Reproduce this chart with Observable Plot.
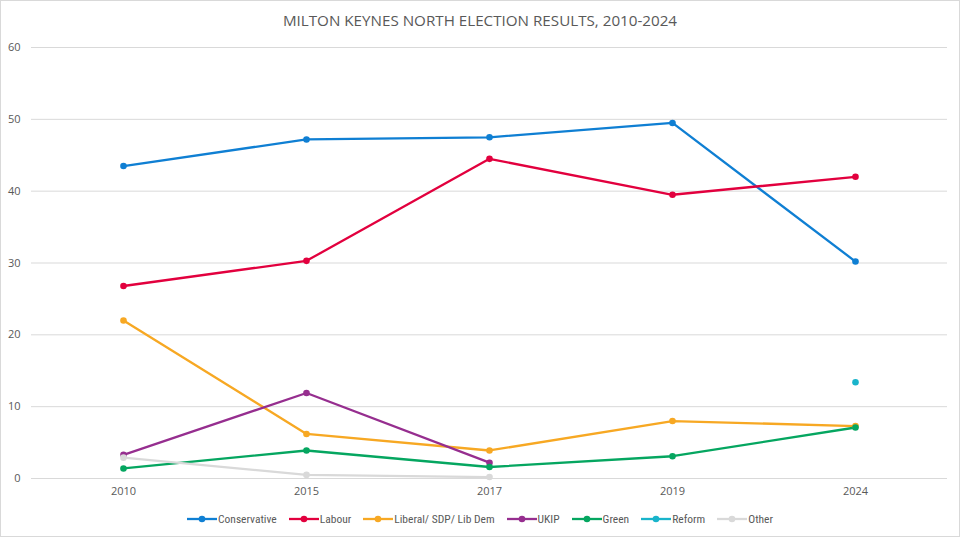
<!DOCTYPE html>
<html>
<head>
<meta charset="utf-8">
<script src="https://cdn.jsdelivr.net/npm/d3@7"></script>
<script src="https://cdn.jsdelivr.net/npm/@observablehq/plot@0.6"></script>
<style>
  html, body { margin: 0; padding: 0; background: #fff; }
  #wrap { width: 958px; height: 535px; border: 1px solid #d9d9d9; position: relative; overflow: hidden; font-family: "Open Sans", "Noto Sans", sans-serif; }
  #title { position: absolute; left: 0; top: 9px; width: 958px; text-align: center; font-size: 15.2px; color: #595959; }
  #chart { position: absolute; left: 0; top: 37px; }
  #legend { position: absolute; left: 0; top: 511px; width: 958px; display: flex; justify-content: center; gap: 12px; font-family: "Liberation Sans Narrow", "Roboto Condensed", Roboto, sans-serif; font-size: 11.5px; color: #595959; }
  .item { display: flex; align-items: center; gap: 1px; }
</style>
</head>
<body>
<div id="wrap">
  <div id="title">MILTON KEYNES NORTH ELECTION RESULTS, 2010-2024</div>
  <div id="chart"></div>
  <div id="legend"></div>
</div>
<script>
const years = ["2010", "2015", "2017", "2019", "2024"];
const parties = ["Conservative", "Labour", "Liberal/ SDP/ Lib  Dem", "UKIP", "Green", "Reform", "Other"];
const colors = ["#0F7FD3", "#E2003E", "#F7A823", "#962E8F", "#05A660", "#19B4CB", "#D9D9D9"];
const conservative = [43.5, 47.2, 47.5, 49.5, 30.2];
const labour = [26.8, 30.3, 44.5, 39.5, 42.0];
const libdem = [22.0, 6.2, 3.9, 8.0, 7.3];
const ukip = [3.3, 11.9, 2.2, null, null];
const green = [1.4, 3.9, 1.6, 3.1, 7.1];
const reform = [null, null, null, null, 13.4];
const other = [2.9, 0.5, 0.2, null, null];
const yTicks = [0, 10, 20, 30, 40, 50, 60];

const series = [conservative, labour, libdem, ukip, green, reform, other];
const data = [];
series.forEach((vals, i) => {
  vals.forEach((v, j) => {
    data.push({party: parties[i], year: years[j], value: v});
  });
});
const valid = data.filter(d => d.value != null);

const plot = Plot.plot({
  width: 958,
  height: 462,
  marginTop: 9,
  marginBottom: 22,
  marginLeft: 30,
  marginRight: 12,
  style: { fontFamily: "Open Sans, Noto Sans, sans-serif", fontSize: "11px", color: "#595959", background: "transparent" },
  x: { type: "point", domain: years, padding: 0.5, label: null },
  y: { domain: [0, 60], label: null },
  color: { domain: parties, range: colors },
  marks: [
    Plot.ruleY(yTicks, { stroke: "#d9d9d9", strokeWidth: 1 }),
    Plot.axisY({ ticks: yTicks, tickSize: 0, tickPadding: 11, label: null, fill: "#595959" }),
    Plot.axisX({ tickSize: 0, tickPadding: 9, label: null, fill: "#595959" }),
    Plot.line(data, { x: "year", y: "value", z: "party", stroke: "party", strokeWidth: 2.3, defined: d => d.value != null }),
    Plot.dot(valid, { x: "year", y: "value", fill: "party", r: 3.3 })
  ]
});
document.getElementById("chart").appendChild(plot);

const legend = document.getElementById("legend");
parties.forEach((p, i) => {
  const item = document.createElement("div");
  item.className = "item";
  item.innerHTML = `<svg width="30" height="10"><line x1="0" y1="5" x2="30" y2="5" stroke="${colors[i]}" stroke-width="2.3"/><circle cx="15" cy="5" r="3.3" fill="${colors[i]}"/></svg><span>${p}</span>`;
  legend.appendChild(item);
});
</script>
</body>
</html>
